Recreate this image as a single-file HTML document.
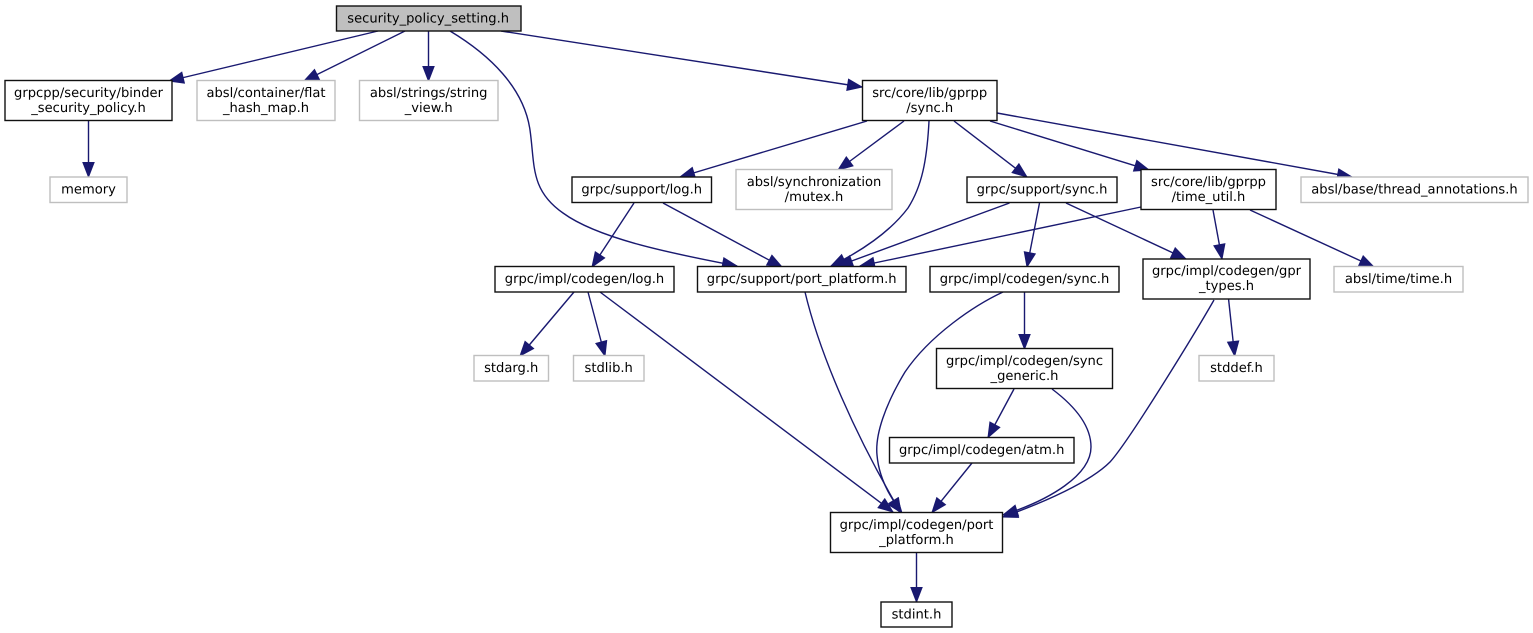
<!DOCTYPE html>
<html>
<head>
<meta charset="utf-8">
<style>
html,body{margin:0;padding:0;background:#fff;width:1533px;height:633px;overflow:hidden}
svg{display:block}
text{font-family:"DejaVu Sans",sans-serif;font-size:13.1px;text-anchor:middle;fill:#000;text-rendering:geometricPrecision}
.n{fill:#fff;stroke:#111;stroke-width:1.4}
.g{fill:#fff;stroke:#bfbfbf;stroke-width:1.4}
.e{fill:none;stroke:#191970;stroke-width:1.4;marker-end:url(#a)}
</style>
</head>
<body>
<svg width="1533" height="633" viewBox="0 0 1533 633" xmlns="http://www.w3.org/2000/svg">
<defs>
<marker id="a" markerUnits="userSpaceOnUse" markerWidth="17" markerHeight="14" refX="15.5" refY="7" orient="auto">
<path d="M1,1.4 L15.5,7 L1,12.6 Z" fill="#191970" stroke="#191970" stroke-width="1"/>
</marker>
</defs>

<path class="e" d="M378,31 L169,81"/>
<path class="e" d="M405,31 L304,81"/>
<path class="e" d="M428.5,31 L428.5,81"/>
<path class="e" d="M450,31 C490,55 524,88 530,130 C535,165 530,190 563,213 C600,240 680,255 737,266"/>
<path class="e" d="M501,31 L862,87"/>
<path class="e" d="M88.5,120.5 L88.5,177"/>
<path class="e" d="M867,121 L680,177"/>
<path class="e" d="M904,121 L838,170"/>
<path class="e" d="M929,121 C927,160 922,186 908,208 C890,232 860,252 831,266"/>
<path class="e" d="M954,121 L1027,177"/>
<path class="e" d="M990,121 L1149,170"/>
<path class="e" d="M997,113 L1352,177"/>
<path class="e" d="M634,203 L592,267"/>
<path class="e" d="M663,203 L782,267"/>
<path class="e" d="M1009.5,203 L838,266"/>
<path class="e" d="M1141,207 L860,266"/>
<path class="e" d="M1039.5,203 L1027,267"/>
<path class="e" d="M1066,203 L1186,259"/>
<path class="e" d="M1213,210 L1222,259"/>
<path class="e" d="M1250,210 L1374,267"/>
<path class="e" d="M1228.6,299.5 L1234.7,356"/>
<path class="e" d="M1214,300 C1198,328 1130,440 1110,462 C1090,482 1045,502 1003,517"/>
<path class="e" d="M1024.5,292 L1024.5,349"/>
<path class="e" d="M1003,292 C975,305 930,335 905,372 C885,405 875,435 877,455 C879,480 892,500 902,513"/>
<path class="e" d="M805,292 C820,355 855,435 901,513"/>
<path class="e" d="M600,292 L893,512"/>
<path class="e" d="M1014,389 L988,437.5"/>
<path class="e" d="M1052,389 C1072,404 1091,424 1091,447 C1091,475 1050,500 1003,515"/>
<path class="e" d="M972,463 L932,512.5"/>
<path class="e" d="M916.5,552.5 L916.5,602"/>
<path class="e" d="M574,292 L520,356"/>
<path class="e" d="M588,292 L605,356"/>

<rect x="336.5" y="6" width="184.5" height="25" fill="#bfbfbf" stroke="#111" stroke-width="1.4"/>
<text x="428.2" y="22.5">security_policy_setting.h</text>

<rect class="n" x="5" y="80.5" width="167" height="40"/>
<text x="88.5" y="97">grpcpp/security/binder</text><text x="88.5" y="112">_security_policy.h</text>

<rect class="g" x="197" y="80.5" width="138" height="40"/>
<text x="266" y="97">absl/container/flat</text><text x="266" y="112">_hash_map.h</text>

<rect class="g" x="359.5" y="80.5" width="138.5" height="40"/>
<text x="428.7" y="97">absl/strings/string</text><text x="428.7" y="112">_view.h</text>

<rect class="g" x="50" y="177" width="77" height="25.5"/>
<text x="88.5" y="193.5">memory</text>

<rect class="n" x="862.5" y="80.5" width="134.5" height="40"/>
<text x="929.7" y="97">src/core/lib/gprpp</text><text x="929.7" y="112">/sync.h</text>

<rect class="n" x="572" y="177" width="139.5" height="25.5"/>
<text x="641.7" y="193.5">grpc/support/log.h</text>

<rect class="g" x="736" y="169.5" width="156" height="40"/>
<text x="814" y="186">absl/synchronization</text><text x="814" y="201">/mutex.h</text>

<rect class="n" x="967" y="177" width="150" height="25.5"/>
<text x="1042" y="193.5">grpc/support/sync.h</text>

<rect class="n" x="1141" y="169.5" width="135" height="40"/>
<text x="1208.5" y="186">src/core/lib/gprpp</text><text x="1208.5" y="201">/time_util.h</text>

<rect class="g" x="1301" y="177" width="227" height="25.5"/>
<text x="1414.5" y="193.5">absl/base/thread_annotations.h</text>

<rect class="n" x="1143" y="259" width="167" height="40"/>
<text x="1226.5" y="275">grpc/impl/codegen/gpr</text><text x="1226.5" y="290">_types.h</text>

<rect class="g" x="1334" y="266.5" width="129" height="25.5"/>
<text x="1398.5" y="283">absl/time/time.h</text>

<rect class="n" x="495" y="266.5" width="179" height="25.5"/>
<text x="584.5" y="283">grpc/impl/codegen/log.h</text>

<rect class="n" x="697.5" y="266.5" width="208.5" height="25.5"/>
<text x="801.7" y="283">grpc/support/port_platform.h</text>

<rect class="n" x="930" y="266.5" width="189" height="25.5"/>
<text x="1024.5" y="283">grpc/impl/codegen/sync.h</text>

<rect class="g" x="1199" y="355.5" width="75" height="25.5"/>
<text x="1236.5" y="372">stddef.h</text>

<rect class="g" x="474" y="355.5" width="74.5" height="25.5"/>
<text x="511.2" y="372">stdarg.h</text>

<rect class="g" x="573.5" y="355.5" width="70.5" height="25.5"/>
<text x="608.7" y="372">stdlib.h</text>

<rect class="n" x="936.5" y="348.5" width="176" height="40"/>
<text x="1024.5" y="365">grpc/impl/codegen/sync</text><text x="1024.5" y="380">_generic.h</text>

<rect class="n" x="889.5" y="437.5" width="184.5" height="25.5"/>
<text x="981.7" y="454">grpc/impl/codegen/atm.h</text>

<rect class="n" x="830.5" y="512.5" width="172" height="40"/>
<text x="916.5" y="529">grpc/impl/codegen/port</text><text x="916.5" y="544">_platform.h</text>

<rect class="n" x="881" y="602" width="71" height="25"/>
<text x="916.5" y="618.5">stdint.h</text>
</svg>
</body>
</html>
